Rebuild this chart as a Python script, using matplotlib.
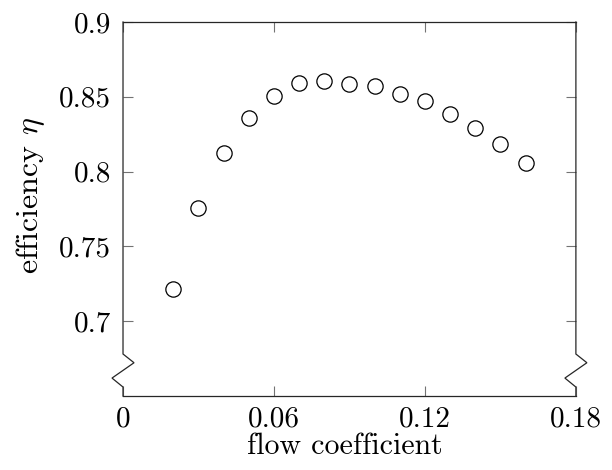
import numpy as np
import matplotlib
matplotlib.use("Agg")
import matplotlib.pyplot as plt
from matplotlib.lines import Line2D

plt.rcParams['font.family'] = ['cmr10', 'DejaVu Serif']
plt.rcParams['mathtext.fontset'] = 'cm'
plt.rcParams['axes.formatter.use_mathtext'] = True
plt.rcParams['font.size'] = 21

flow = [0.02, 0.03, 0.04, 0.05, 0.06, 0.07, 0.08, 0.09,
        0.10, 0.11, 0.12, 0.13, 0.14, 0.15, 0.16]
eff = [0.7216, 0.776, 0.8122, 0.8356, 0.8504, 0.8589, 0.8604, 0.8584,
       0.8573, 0.8522, 0.8469, 0.8387, 0.8289, 0.8182, 0.8056]

xticks = [0, 0.06, 0.12, 0.18]
xtick_labels = ['0', '0.06', '0.12', '0.18']
yticks = [0.7, 0.75, 0.8, 0.85, 0.9]
ytick_labels = ['0.7', '0.75', '0.8', '0.85', '0.9']

fig = plt.figure(figsize=(6.12, 4.70), dpi=100)
ax = fig.add_axes([0.201, 0.1574, 0.740, 0.7958])

ax.plot(flow, eff, linestyle='none', marker='o', markersize=11,
        markerfacecolor='white', markeredgecolor='black', markeredgewidth=0.9)

ax.set_xlim(0, 0.18)
ax.set_ylim(0.65, 0.9)
ax.set_xticks(xticks, xtick_labels)
ax.set_yticks(yticks, ytick_labels)
ax.tick_params(direction='in', length=7.5, width=0.8, color='0.45',
               top=True, right=True, pad=8.5)
ax.tick_params(axis='x', pad=7.5)

for s in ax.spines.values():
    s.set_linewidth(0.9)
    s.set_color('0.15')

# broken y axis: draw left/right spines by hand with a zigzag
ax.spines['left'].set_visible(False)
ax.spines['right'].set_visible(False)
dx = 0.0243
y_top, y_a, y_b, y_bot = 0.1123, 0.089, 0.048, 0.024
for x0 in [0, 1]:
    xs = [x0, x0, x0 + dx, x0 - dx, x0, x0]
    ys = [1, y_top, y_a, y_b, y_bot, 0]
    ax.add_line(Line2D(xs, ys, transform=ax.transAxes, color='0.15',
                       linewidth=0.9, clip_on=False, solid_joinstyle='miter'))

ax.set_xlabel('flow coefficient', fontsize=21.5)
ax.set_ylabel(r'efficiency $\eta$', fontsize=23)
ax.xaxis.set_label_coords(0.49, -0.097)
ax.yaxis.set_label_coords(-0.168, 0.535)

fig.savefig('out.png', dpi=100)
